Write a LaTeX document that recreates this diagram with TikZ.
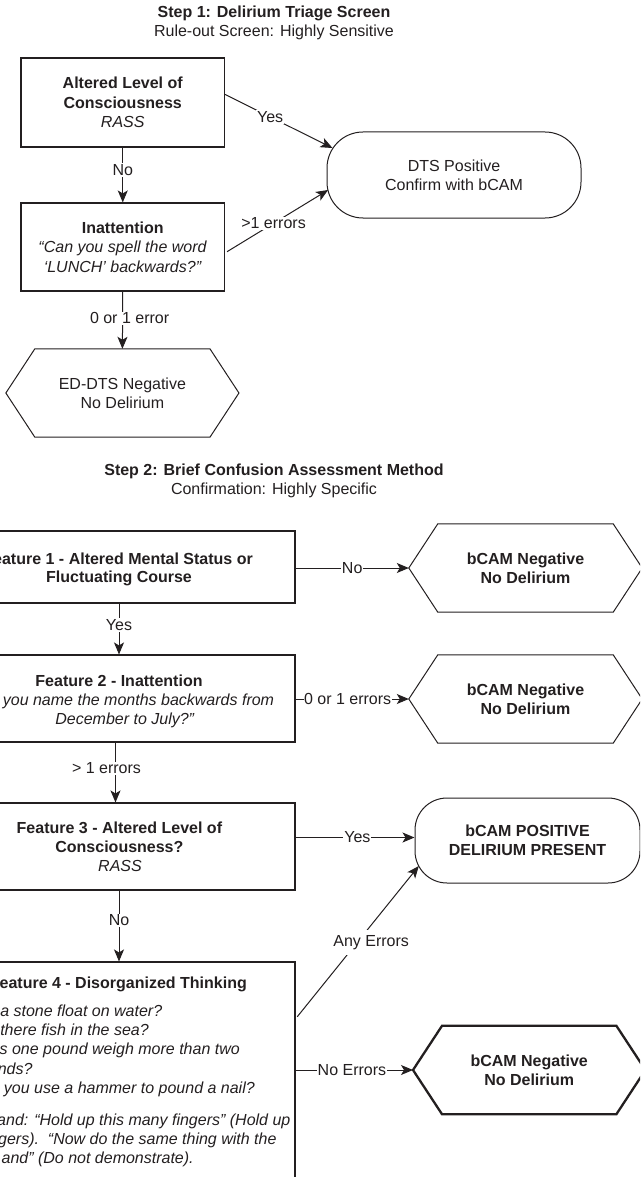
\documentclass[tikz,border=0pt]{standalone}
\usepackage{fontspec}
\setmainfont{Liberation Sans}[Ligatures={TeX,NoCommon}]
\usetikzlibrary{arrows.meta,calc}
\definecolor{ink}{RGB}{35,31,32}
\newcommand\fsz{\fontsize{16}{19.3}\selectfont}
\newcommand\hexpath[2][]{\draw[line width=1pt,line join=miter,#1] (#2.west) -- ($(#2.north west)+(29,0)$) -- ($(#2.north east)+(-29,0)$) -- (#2.east) -- ($(#2.south east)+(-29,0)$) -- ($(#2.south west)+(29,0)$) -- cycle;}
\begin{document}
\begin{tikzpicture}[x=1pt,y=-1pt,font=\fsz,color=ink,
  rbox/.style={draw,line width=1.1pt},
  arr/.style={-{Stealth[length=12pt,width=10pt,inset=3pt]},line width=1pt},
  lbl/.style={fill=white,inner sep=1pt,font=\fsz},
  tl/.style={inner sep=0pt,anchor=base},
  tle/.style={inner sep=0pt,anchor=base east},
  bf/.style={font=\fsz\bfseries},
  it/.style={font=\fsz\itshape}]
\useasboundingbox (0,0) rectangle (640,1177);
\clip (0,0) rectangle (640,1177);

% ---------- Step 1 ----------
\node[tl,bf] (t1a) at (274,17.3) {Step 1: Delirium Triage Screen};
\node[tl] (t1b) at (274,36.3) {Rule-out Screen: Highly Sensitive};

\node[rbox,minimum width=203.5pt,minimum height=89pt,align=center] (b1) at (122.75,102.5)
  {\textbf{Altered Level of}\\\textbf{Consciousness}\\\textit{RASS}};
\node[rbox,minimum width=203.5pt,minimum height=88pt,align=center] (b2) at (122.75,247)
  {\textbf{Inattention}\\\textit{“Can you spell the word}\\\textit{‘LUNCH’ backwards?”}};
\node[draw,line width=1pt,rounded corners=36pt,minimum width=254pt,minimum height=86pt,align=center] (dts) at (454,175)
  {DTS Positive\\Confirm with bCAM};
\node[minimum width=232.7pt,minimum height=88pt,align=center] (ed) at (122.4,393)
  {ED-DTS Negative\\No Delirium};
\hexpath{ed}

\draw[arr] (b1.south) -- node[lbl,pos=.41]{No} (b2.north);
\draw[arr] ($(b1.north east)+(0,37)$) -- node[lbl,pos=.42]{Yes} ($(dts.west)+(6,-27)$);
\draw[arr] ($(b2.east)+(2,4.7)$) -- node[lbl,pos=.46]{>1 errors} ($(dts.west)+(1.6,15)$);
\draw[arr] (b2.south) -- node[lbl,pos=.47,xshift=7pt]{0 or 1 error} (ed.north);

% ---------- Step 2 ----------
\node[tl,bf] (t2a) at (274,475.7) {Step 2: Brief Confusion Assessment Method};
\node[tl] (t2b) at (274,494.5) {Confirmation: Highly Specific};

\node[rbox,minimum width=352pt,minimum height=72pt] (f1) at (119,567) {};
\node[rbox,minimum width=352pt,minimum height=87pt] (f2) at (119,698.5) {};
\node[rbox,minimum width=352pt,minimum height=87pt] (f3) at (119,846.5) {};
\node[rbox,minimum width=352pt,minimum height=238pt] (f4) at (119,1081) {};

\node[tle,bf] (f1a) at (253,564) {eature 1 - Altered Mental Status or};
\node[tl,bf] (f1b) at (119,582.7) {Fluctuating Course};

\node[tl,bf] (f2a) at (119,686) {Feature 2 - Inattention};
\node[tle,it] (f2b) at (274.3,705.5) {you name the months backwards from};
\node[tl,it] (f2c) at (124.7,724.8) {December to July?”};

\node[tl,bf] (f3a) at (119.4,833.3) {Feature 3 - Altered Level of};
\node[tl,bf] (f3b) at (119.4,852.3) {Consciousness?};
\node[tl,it] (f3c) at (120,871) {RASS};

\node[tle,bf] (f4a) at (247,988.3) {eature 4 - Disorganized Thinking};
\node[tle,it] (f4b) at (162.4,1016.3) {a stone float on water?};
\node[tle,it] (f4c) at (149,1035.6) {there fish in the sea?};
\node[tle,it] (f4d) at (240,1054.9) {s one pound weigh more than two};
\node[tle,it] (f4e) at (32.7,1074.2) {nds?};
\node[tle,it] (f4f) at (255,1093.5) {you use a hammer to pound a nail?};
\node[tle,it] (f4g) at (290.6,1125) {and: “Hold up this many fingers” (Hold up};
\node[tle,it] (f4h) at (276.7,1144.3) {gers).\ \ “Now do the same thing with the};
\node[tle,it] (f4i) at (193.9,1163.6) {and” (Do not demonstrate).};

\node[minimum width=233pt,minimum height=88pt,align=center,bf] (h1) at (525.5,568) {bCAM Negative\\No Delirium};
\hexpath{h1}
\node[minimum width=233pt,minimum height=88pt,align=center,bf] (h2) at (525.5,699) {bCAM Negative\\No Delirium};
\hexpath{h2}
\node[draw,line width=1pt,rounded corners=32pt,minimum width=225pt,minimum height=85pt,align=center,bf] (s2) at (527.5,840.5)
  {bCAM POSITIVE\\DELIRIUM PRESENT};
\node[minimum width=232pt,minimum height=88pt,align=center,bf] (h3) at (529.2,1070) {bCAM Negative\\No Delirium};
\hexpath[line width=2.3pt]{h3}

\draw[arr] (f1.south) -- node[lbl,pos=.42]{Yes} (f2.north);
\draw[arr] ($(f2.south)+(-3.5,0)$) -- node[lbl,pos=.43,xshift=-9pt]{> 1 errors} ($(f3.north)+(-3.5,0)$);
\draw[arr] (f3.south) -- node[lbl,pos=.42]{No} (f4.north);
\draw[arr] (f1.east |- h1.west) -- node[lbl,pos=.5]{No} (h1.west);
\draw[arr] (f2.east |- h2.west) -- node[lbl,pos=.46,inner xsep=0.5pt]{0 or 1 errors} (h2.west);
\draw[arr] ($(f3.east)+(0,-9)$) -- node[lbl,pos=.52]{Yes} ($(s2.west)+(0,-3)$);
\draw[arr] ($(f4.north east)+(1.7,55.3)$) -- node[lbl,pos=.493,xshift=14pt,inner ysep=5pt]{Any Errors} ($(s2.west)+(4.3,25.5)$);
\draw[arr] (f4.east |- h3.west) -- node[lbl,pos=.48,inner xsep=0.5pt]{No Errors} (h3.west);
\end{tikzpicture}
\end{document}
